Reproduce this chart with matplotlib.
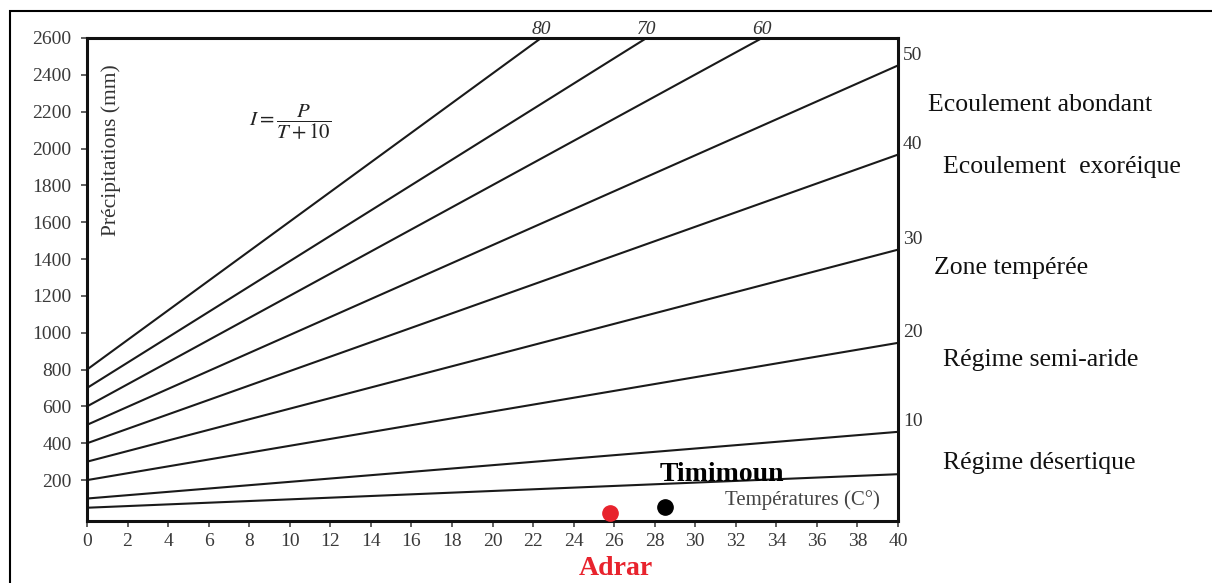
import matplotlib.pyplot as plt
from matplotlib.patches import Rectangle

# P a T = 0, puis point d'arrivee (T, P) sur le bord droit ou le bord haut
indices = [5, 10, 20, 30, 40, 50, 60, 70, 80]
P_depart = [50, 100, 200, 300, 400, 500, 600, 700, 800]
T_arrivee = [40, 40, 40, 40, 40, 40, 33.3, 27.6, 22.4]
P_arrivee = [232, 462, 945, 1451, 1967, 2451, 2600, 2600, 2600]

indices_droite = [10, 20, 30, 40, 50]
indices_haut = [80, 70, 60]

# Stations
stations = ["Adrar", "Timimoun"]
stations_T = [25.8, 28.5]
stations_P = [21, 53]
stations_couleurs = ["#e8232d", "black"]

# Zones climatiques
zones = ["Ecoulement abondant", "Ecoulement  exoréique", "Zone tempérée",
         "Régime semi-aride", "Régime désertique"]
zones_P = [2236, 1899, 1350, 850, 292]
zones_x = [41.5, 42.2, 41.8, 42.2, 42.2]

y_ticks = list(range(200, 2601, 200))
x_ticks = list(range(0, 41, 2))

plt.rcParams["font.family"] = ["Liberation Serif", "DejaVu Serif"]
plt.rcParams["mathtext.fontset"] = "stix"

fig = plt.figure(figsize=(12.12, 5.83), dpi=100)
ax = fig.add_axes([87 / 1212, 1 - 521 / 583, (898 - 87) / 1212, (521 - 38) / 583])

for p0, t1, p1 in zip(P_depart, T_arrivee, P_arrivee):
    ax.plot([0, t1], [p0, p1], color="#1a1a1a", lw=1.5)

ax.set_xlim(0, 40)
ax.set_ylim(-22, 2600)

ax.set_xticks(x_ticks)
ax.set_yticks(y_ticks)
ax.tick_params(axis="both", direction="out", length=4, width=1.2,
               labelsize=14, labelcolor="#3a3a3a", color="#444444")
ax.tick_params(axis="x", pad=5)
ax.tick_params(axis="y", pad=7)
for s in ax.spines.values():
    s.set_linewidth(2.2)
    s.set_color("#111111")

# etiquettes des droites
for I in indices_haut:
    k = indices.index(I)
    ax.text(T_arrivee[k], 2600, str(I), ha="center", va="bottom",
            fontsize=14, style="italic", color="#333333")
for I in indices_droite:
    k = indices.index(I)
    ax.text(40.25, P_arrivee[k] + 10, str(I), ha="left", va="bottom",
            fontsize=14, color="#333333", clip_on=False)

for txt, p, x in zip(zones, zones_P, zones_x):
    ax.text(x, p, txt, ha="left", va="center", fontsize=18.5,
            color="#111111", clip_on=False)

ax.text(10, 2143, r"$I=\dfrac{P}{T+10}$", ha="center", va="center", fontsize=15,
        color="#222222")
ax.text(1.2, 1990, "Précipitations (mm)", rotation=90, ha="center", va="center",
        fontsize=15.5, color="#333333")
ax.text(35.3, 91, "Températures (C°)", ha="center", va="center",
        fontsize=15, color="#444444")

for T, P, c in zip(stations_T, stations_P, stations_couleurs):
    ax.plot(T, P, "o", color=c, ms=11, clip_on=False, zorder=5)

ax.text(31.3, 232, "Timimoun", ha="center", va="center", fontsize=20,
        fontweight="bold", color="black")
ax.text(26.1, -280, "Adrar", ha="center", va="center", fontsize=20,
        fontweight="bold", color=stations_couleurs[0], clip_on=False)

# cadre exterieur
fig.patches.append(Rectangle((10 / 1212, -0.05), 1.1, 1 - 11 / 583 + 0.05,
                             transform=fig.transFigure, fill=False,
                             edgecolor="black", lw=1.5))

fig.savefig("out.png", dpi=100)
plt.close(fig)
